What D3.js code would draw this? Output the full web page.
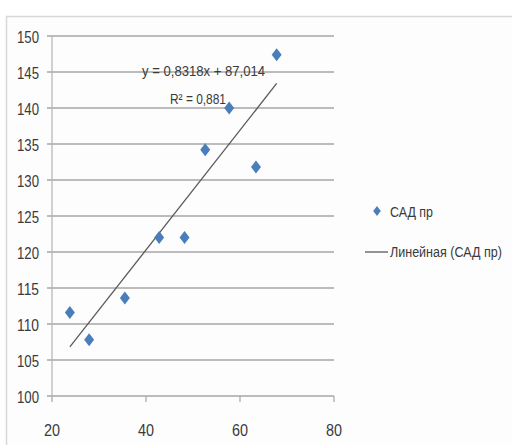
<!DOCTYPE html>
<html><head><meta charset="utf-8">
<script src="https://cdn.jsdelivr.net/npm/d3@7"></script>
<style>
html,body{margin:0;padding:0;background:#fff;}
svg{display:block;}
text{font-family:"Liberation Sans",Arial,sans-serif;fill:#3a3a3a;}
</style></head>
<body>
<script>
// Data
const xValues = [23.8, 27.9, 35.5, 42.8, 48.2, 52.6, 57.7, 63.4, 67.8];
const yValues = [111.6, 107.8, 113.6, 122.0, 122.0, 134.2, 140.0, 131.8, 147.4];
const yTicks = [100, 105, 110, 115, 120, 125, 130, 135, 140, 145, 150];
const xTicks = [20, 40, 60, 80];
const trendSlope = 0.8318;
const trendIntercept = 87.014;
const equationLabel = "y = 0,8318x + 87,014";
const r2Label = "R² = 0,881";
const seriesName = "САД пр";
const trendName = "Линейная (САД пр)";

const W = 512, H = 445;
const svg = d3.select("body").append("svg").attr("width", W).attr("height", H);

// chart area border
svg.append("rect").attr("x", 6.5).attr("y", 16.5).attr("width", 520).attr("height", 440)
  .attr("fill", "#fdfdfd").attr("stroke", "#d8d8d8").attr("stroke-width", 1.5);

const x = d3.scaleLinear().domain([20, 80]).range([52, 334]);
const y = d3.scaleLinear().domain([100, 150]).range([396, 36]);

// gridlines
svg.append("g").selectAll("line").data(yTicks).join("line")
  .attr("x1", 47).attr("x2", x(80))
  .attr("y1", d => y(d)).attr("y2", d => y(d))
  .attr("stroke", "#a6a6a6").attr("stroke-width", 1.6);

// y axis line
svg.append("line").attr("x1", x(20)).attr("x2", x(20)).attr("y1", y(150)).attr("y2", y(100))
  .attr("stroke", "#b4b4b4").attr("stroke-width", 1.2);

// x axis ticks
svg.append("g").selectAll("line").data(xTicks).join("line")
  .attr("x1", d => x(d)).attr("x2", d => x(d))
  .attr("y1", y(100)).attr("y2", y(100) + 6)
  .attr("stroke", "#a6a6a6").attr("stroke-width", 1.2);

// y tick labels
svg.append("g").selectAll("text").data(yTicks).join("text")
  .attr("x", 39).attr("y", d => y(d) + 6.5)
  .attr("text-anchor", "end")
  .attr("font-size", 17)
  .attr("textLength", 22).attr("lengthAdjust", "spacingAndGlyphs")
  .text(d => d);

// x tick labels
svg.append("g").selectAll("text").data(xTicks).join("text")
  .attr("x", d => x(d) - 8).attr("y", 436)
  .attr("font-size", 17)
  .attr("textLength", 16).attr("lengthAdjust", "spacingAndGlyphs")
  .text(d => d);

// trend line
const xMin = d3.min(xValues), xMax = d3.max(xValues);
svg.append("line")
  .attr("x1", x(xMin)).attr("y1", y(trendSlope * xMin + trendIntercept))
  .attr("x2", x(xMax)).attr("y2", y(trendSlope * xMax + trendIntercept))
  .attr("stroke", "#5a5a5a").attr("stroke-width", 1.3);

// points
const diamond = "M0,-6.5L5,0L0,6.5L-5,0Z";
svg.append("g").selectAll("path").data(xValues.map((v, i) => [v, yValues[i]])).join("path")
  .attr("transform", d => `translate(${x(d[0])},${y(d[1])})`)
  .attr("d", diamond)
  .attr("fill", "#4a7ebb");

// equation
svg.append("text").attr("x", 142).attr("y", 76).attr("font-size", 15)
  .attr("textLength", 123).attr("lengthAdjust", "spacingAndGlyphs")
  .text(equationLabel);
svg.append("text").attr("x", 170).attr("y", 104).attr("font-size", 15)
  .attr("textLength", 56).attr("lengthAdjust", "spacingAndGlyphs")
  .text(r2Label);

// legend
svg.append("path").attr("transform", "translate(377,211)").attr("d", "M0,-5L3.8,0L0,5L-3.8,0Z").attr("fill", "#4a7ebb");
svg.append("text").attr("x", 390).attr("y", 216.5).attr("font-size", 14)
  .attr("textLength", 43).attr("lengthAdjust", "spacingAndGlyphs").text(seriesName);
svg.append("line").attr("x1", 365).attr("x2", 388).attr("y1", 252).attr("y2", 252)
  .attr("stroke", "#5a5a5a").attr("stroke-width", 1.3);
const trendText = svg.append("text").attr("font-size", 14).text(trendName);
const natural = trendText.node().getComputedTextLength();
trendText.attr("transform", `translate(390,256.5) scale(${Math.min(1, 112 / natural)},1)`);
</script>
</body></html>
